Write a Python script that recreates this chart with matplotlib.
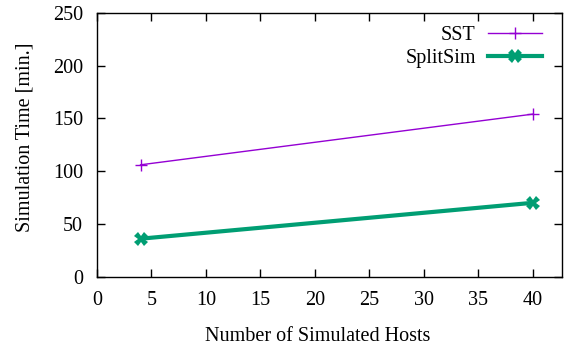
import matplotlib
matplotlib.use('Agg')
import matplotlib.pyplot as plt

plt.rcParams['font.family'] = ['Liberation Serif', 'DejaVu Serif']
plt.rcParams['font.size'] = 14.5

hosts = [4, 40]
sst_time = [106, 154]
splitsim_time = [36, 70]

fig = plt.figure(figsize=(5.65, 3.5), dpi=100)
ax = fig.add_axes([0.1717, 0.2094, 0.823, 0.754])

ax.plot(hosts, sst_time, '-', color='#9400d3', lw=1, marker='+', ms=9, mew=1, label='SST')
ax.plot(hosts, splitsim_time, '-', color='#009e73', lw=3, marker='X', ms=10, mew=0, label='SplitSim')

ax.set_xlim(0, 42.7)
ax.set_ylim(0, 250)
ax.set_xticks(range(0, 41, 5))
ax.set_yticks(range(0, 251, 50))
ax.tick_params(direction='in', top=True, right=True, length=6, width=1, colors='black')
ax.tick_params(axis='x', pad=10)
ax.tick_params(axis='y', pad=10)
for s in ax.spines.values():
    s.set_linewidth(1)

ax.set_xlabel('Number of Simulated Hosts')
ax.xaxis.set_label_coords(0.475, -0.19)
ax.set_ylabel('Simulation Time [min.]')
ax.yaxis.set_label_coords(-0.135, 0.53)
ax.legend(loc='upper right', frameon=False, markerfirst=False, handlelength=2.7,
          handletextpad=0.6, borderaxespad=0, labelspacing=0.2,
          bbox_to_anchor=(0.975, 0.98))

fig.savefig('out.png', dpi=100)
